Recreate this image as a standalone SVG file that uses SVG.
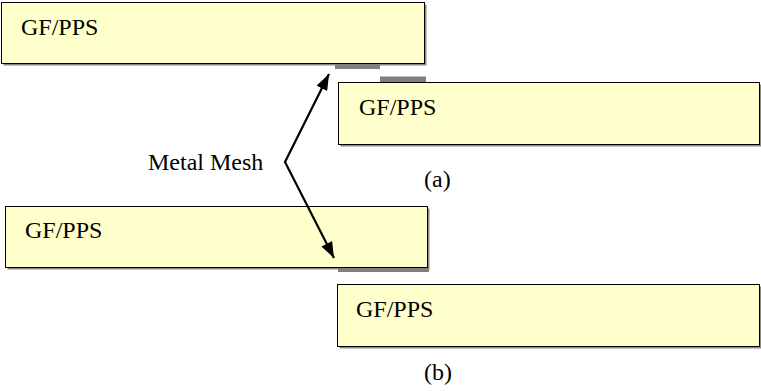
<svg xmlns="http://www.w3.org/2000/svg" width="761" height="391" viewBox="0 0 761 391">
<style>
.box{fill:#FFFFCC;stroke:#000;stroke-width:1}
.shadow{fill:#8a8a8a}
.mesh{fill:#808080}
.t{font-family:"Liberation Serif","Times New Roman",serif;font-size:24px;fill:#000}
.conn{fill:none;stroke:#000;stroke-width:2.2}
</style>
<defs>
<marker id="ah" viewBox="0 0 16 12" refX="16" refY="6" markerWidth="16" markerHeight="12" markerUnits="userSpaceOnUse" orient="auto-start-reverse">
<path d="M0,0 L16,6 L0,12 z" fill="#000"/>
</marker>
</defs>
<rect width="761" height="391" fill="#fff"/>
<g id="box1">
<rect class="shadow" x="3.5" y="4.5" width="423" height="61"/>
<rect class="box" x="1.5" y="2.5" width="423" height="61"/>
<text class="t" x="21" y="35">GF/PPS</text>
</g>
<g id="mesh1"><rect class="mesh" x="335" y="64" width="45" height="5"/></g>
<g id="mesh2"><rect class="mesh" x="380" y="76.5" width="46" height="5.5"/></g>
<g id="box2">
<rect class="shadow" x="340.5" y="84.5" width="421" height="62"/>
<rect class="box" x="338.5" y="82.5" width="421" height="62"/>
<text class="t" x="359" y="115">GF/PPS</text>
</g>
<g id="label-a"><text class="t" x="424" y="187">(a)</text></g>
<g id="box3">
<rect class="shadow" x="7.5" y="208.5" width="422" height="61"/>
<rect class="box" x="5.5" y="206.5" width="422" height="61"/>
<text class="t" x="25" y="238">GF/PPS</text>
</g>
<g id="mesh3"><rect class="mesh" x="338" y="268" width="91" height="4"/></g>
<g id="box4">
<rect class="shadow" x="339.5" y="286.5" width="422" height="62"/>
<rect class="box" x="337.5" y="284.5" width="422" height="62"/>
<text class="t" x="356" y="317">GF/PPS</text>
</g>
<g id="label-b"><text class="t" x="424" y="380">(b)</text></g>
<g id="metal-mesh"><text class="t" x="148" y="170">Metal Mesh</text></g>
<g id="connectors">
<polyline class="conn" points="329,74 285,162 334,258" marker-start="url(#ah)" marker-end="url(#ah)"/>
</g>
</svg>
